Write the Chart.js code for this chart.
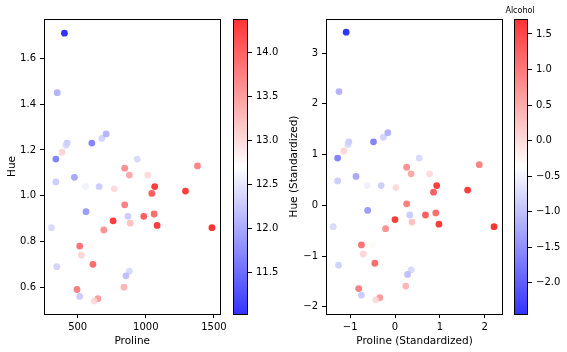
<!DOCTYPE html>
<html>
<head>
<meta charset="utf-8">
<script src="https://cdn.jsdelivr.net/npm/chart.js@4.4.1/dist/chart.umd.min.js"></script>
<style>
  body { margin: 0; background: #fff; width: 567px; height: 352px; overflow: hidden; }
  canvas { position: absolute; top: 0; }
</style>
</head>
<body>
<canvas id="rawChart" width="230" height="352" style="left:0px"></canvas>
<canvas id="rawBar" width="60" height="352" style="left:233px"></canvas>
<canvas id="stdChart" width="230" height="352" style="left:282px"></canvas>
<canvas id="stdBar" width="67" height="352" style="left:500px"></canvas>
<script>
// raw values
const proline = [403, 350, 422, 415, 386, 340, 604, 677, 709, 937,
                 845, 879, 1015, 1379, 1291, 1065, 1044, 340, 476, 558,
                 658, 769, 845, 561, 869, 886, 760, 985, 1061, 1083,
                 1485, 692, 308, 515, 597, 527, 612, 347, 879, 854,
                 840, 495, 515, 648, 621];
const hue = [1.71, 1.45, 1.23, 1.22, 1.19, 1.16, 1.23, 1.25, 1.27, 1.16,
             1.12, 1.09, 1.09, 1.13, 1.02, 1.04, 1.01, 1.06, 1.08, 1.04,
             1.04, 1.03, 0.96, 0.93, 0.91, 0.88, 0.89, 0.91, 0.92, 0.87,
             0.86, 0.85, 0.86, 0.78, 0.78, 0.74, 0.70, 0.69, 0.67, 0.65,
             0.60, 0.59, 0.56, 0.55, 0.54];
const alcohol = [11.03, 12.1, 12.3, 12.4, 13.05, 11.7, 11.7, 12.35, 12.1, 12.4,
                 13.6, 13.4, 13.0, 13.7, 14.3, 14.3, 14.0, 12.3, 12.0, 12.6,
                 12.3, 13.0, 13.75, 11.9, 12.3, 13.2, 14.3, 14.0, 13.9, 14.3,
                 14.38, 13.6, 12.4, 13.85, 12.75, 13.05, 13.9, 12.35, 12.4, 12.2,
                 13.3, 13.75, 12.3, 13.5, 13.0];

// standardized values
const prolineStd = [-1.09, -1.25, -1.03, -1.05, -1.14, -1.28, -0.48, -0.26, -0.16, 0.54,
                    0.26, 0.36, 0.77, 1.88, 1.62, 0.93, 0.86, -1.28, -0.87, -0.62,
                    -0.31, 0.02, 0.26, -0.61, 0.33, 0.38, 0.00, 0.68, 0.91, 0.98,
                    2.21, -0.21, -1.38, -0.75, -0.50, -0.71, -0.45, -1.26, 0.36, 0.28,
                    0.24, -0.81, -0.75, -0.34, -0.43];
const hueStd = [3.41, 2.24, 1.25, 1.20, 1.07, 0.93, 1.25, 1.34, 1.43, 0.93,
                0.75, 0.62, 0.62, 0.80, 0.30, 0.39, 0.26, 0.48, 0.57, 0.39,
                0.39, 0.35, 0.03, -0.10, -0.19, -0.33, -0.28, -0.19, -0.15, -0.37,
                -0.42, -0.46, -0.42, -0.78, -0.78, -0.96, -1.14, -1.18, -1.27, -1.36,
                -1.59, -1.64, -1.77, -1.82, -1.86];
const alcoholStd = [-2.44, -1.12, -0.87, -0.74, 0.06, -1.61, -1.61, -0.81, -1.12, -0.74,
                    0.74, 0.50, 0.00, 0.87, 1.61, 1.61, 1.24, -0.87, -1.24, -0.50,
                    -0.87, 0.00, 0.93, -1.36, -0.87, 0.25, 1.61, 1.24, 1.12, 1.61,
                    1.71, 0.74, -0.74, 1.05, -0.31, 0.06, 1.12, -0.81, -0.74, -0.99,
                    0.37, 0.93, -0.87, 0.62, 0.00];

// ticks
const rawXTicks = [500, 1000, 1500];
const rawYTicks = [0.6, 0.8, 1.0, 1.2, 1.4, 1.6];
const rawBarTicks = [11.5, 12.0, 12.5, 13.0, 13.5, 14.0];
const stdXTicks = [-1, 0, 1, 2];
const stdYTicks = [-2, -1, 0, 1, 2, 3];
const stdBarTicks = [-2.0, -1.5, -1.0, -0.5, 0.0, 0.5, 1.0, 1.5];

Chart.defaults.font.family = "'DejaVu Sans', sans-serif";
Chart.defaults.color = '#000';

const ALPHA = 0.8;

// matplotlib 'bwr' colormap
function bwr(t) {
    t = Math.min(1, Math.max(0, t));
    let r, g, b;
    if (t < 0.5) { r = g = 2 * t; b = 1; }
    else { r = 1; g = b = 2 * (1 - t); }
    return `rgba(${Math.round(r * 255)},${Math.round(g * 255)},${Math.round(b * 255)},${ALPHA})`;
}

function fmt(dec) {
    return v => (v < 0 ? '\u2212' : '') + Math.abs(v).toFixed(dec);
}

// box around plot area (matplotlib spines)
const frame = {
    id: 'frame',
    afterDraw(chart) {
        const { ctx, chartArea: a } = chart;
        ctx.save();
        ctx.strokeStyle = '#000';
        ctx.lineWidth = 1;
        ctx.strokeRect(Math.round(a.left) + 0.5, Math.round(a.top) + 0.5,
                       Math.round(a.right - a.left) - 1, Math.round(a.bottom - a.top));
        ctx.restore();
    }
};

function tickGrid() {
    return { display: true, drawOnChartArea: false, drawTicks: true, tickLength: 4, color: '#000', lineWidth: 1 };
}

function makeScatter(id, xs, ys, cs, xTicks, yTicks, xLim, yLim, xTitle, yTitle, xDec, yDec, padRight) {
    const lo = Math.min(...cs), hi = Math.max(...cs);
    const colors = cs.map(c => bwr((c - lo) / (hi - lo)));
    return new Chart(document.getElementById(id), {
        type: 'scatter',
        data: {
            datasets: [{
                data: xs.map((x, i) => ({ x: x, y: ys[i] })),
                pointBackgroundColor: colors,
                pointBorderWidth: 0,
                pointRadius: 3.4
            }]
        },
        options: {
            responsive: false,
            animation: false,
            devicePixelRatio: 1,
            events: [],
            layout: { padding: { top: 19, right: padRight, bottom: 0, left: 0 } },
            plugins: { legend: { display: false }, tooltip: { enabled: false } },
            scales: {
                x: {
                    min: xLim[0], max: xLim[1],
                    afterBuildTicks: s => { s.ticks = xTicks.map(v => ({ value: v })); },
                    afterFit: s => { s.height = 38; },
                    grid: tickGrid(),
                    border: { display: false },
                    ticks: { font: { size: 10 }, padding: 3, maxRotation: 0, callback: fmt(xDec) },
                    title: { display: true, text: xTitle, font: { size: 10.5 }, padding: { top: 0, bottom: 4 } }
                },
                y: {
                    min: yLim[0], max: yLim[1],
                    afterBuildTicks: s => { s.ticks = yTicks.map(v => ({ value: v })); },
                    afterFit: s => { s.width = 44; },
                    grid: tickGrid(),
                    border: { display: false },
                    ticks: { font: { size: 10 }, padding: 4, callback: fmt(yDec) },
                    title: { display: true, text: yTitle, font: { size: 10.5 }, padding: { top: 5.5, bottom: 0 } }
                }
            }
        },
        plugins: [frame]
    });
}

function makeBar(id, cs, ticks, padLeft, axisWidth, title) {
    const lo = Math.min(...cs), hi = Math.max(...cs);
    const gradient = {
        id: 'gradient',
        beforeDraw(chart) {
            const { ctx, chartArea: a } = chart;
            const g = ctx.createLinearGradient(0, a.bottom, 0, a.top);
            g.addColorStop(0, bwr(0));
            g.addColorStop(0.5, bwr(0.5));
            g.addColorStop(1, bwr(1));
            ctx.save();
            ctx.fillStyle = g;
            ctx.fillRect(a.left, a.top, a.right - a.left, a.bottom - a.top);
            if (title) {
                ctx.fillStyle = '#000';
                ctx.font = "8px 'DejaVu Sans'";
                ctx.textAlign = 'center';
                ctx.textBaseline = 'alphabetic';
                ctx.fillText(title, (a.left + a.right) / 2 - 1, a.top - 6);
            }
            ctx.restore();
        }
    };
    return new Chart(document.getElementById(id), {
        type: 'scatter',
        data: { datasets: [] },
        options: {
            responsive: false,
            animation: false,
            devicePixelRatio: 1,
            events: [],
            layout: { padding: { top: 19, right: 0, bottom: 38, left: padLeft } },
            plugins: { legend: { display: false }, tooltip: { enabled: false } },
            scales: {
                x: { display: false },
                y: {
                    position: 'right',
                    min: lo, max: hi,
                    afterBuildTicks: s => { s.ticks = ticks.map(v => ({ value: v })); },
                    afterFit: s => { s.width = axisWidth; },
                    grid: tickGrid(),
                    border: { display: false },
                    ticks: { font: { size: 10 }, padding: 4, callback: fmt(1) }
                }
            }
        },
        plugins: [gradient, frame]
    });
}

makeScatter('rawChart', proline, hue, alcohol, rawXTicks, rawYTicks,
    [253, 1548], [0.483, 1.772], 'Proline', 'Hue', 0, 1, 8);
makeBar('rawBar', alcohol, rawBarTicks, 0, 45, null);

makeScatter('stdChart', prolineStd, hueStd, alcoholStd, stdXTicks, stdYTicks,
    [-1.54, 2.41], [-2.14, 3.67], 'Proline (Standardized)', 'Hue (Standardized)', 0, 0, 9);
makeBar('stdBar', alcoholStd, stdBarTicks, 14, 39, 'Alcohol');
</script>
</body>
</html>
